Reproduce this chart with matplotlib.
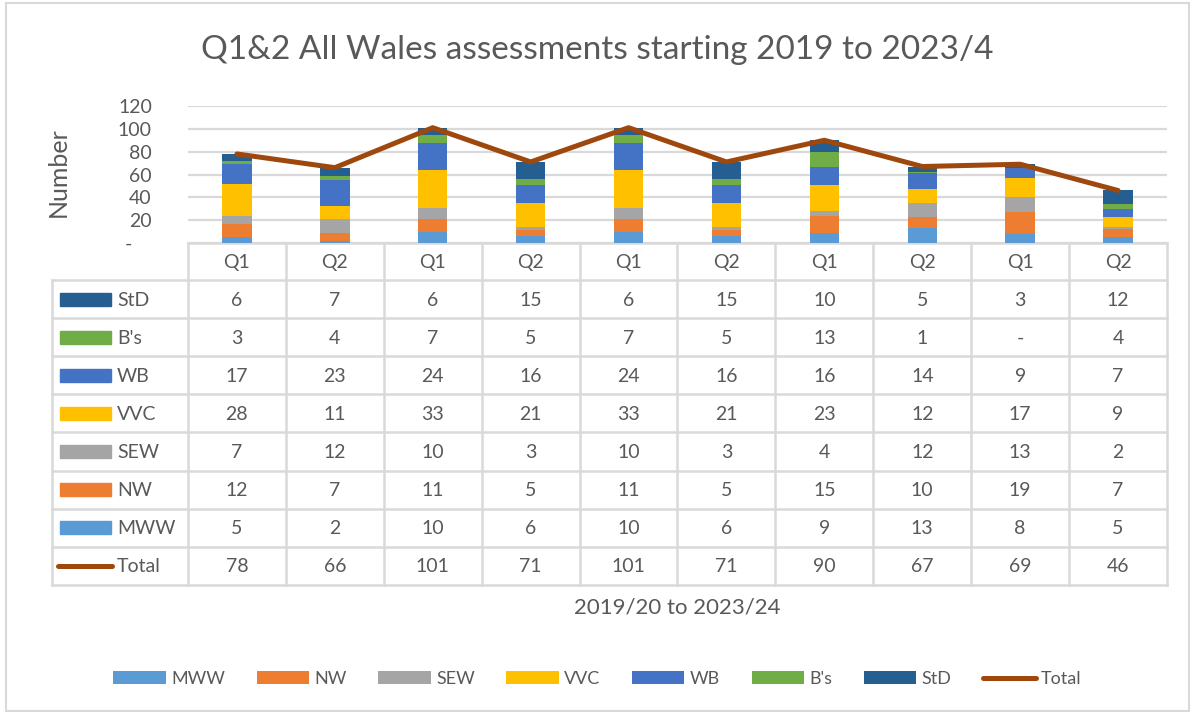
import matplotlib
matplotlib.use("Agg")
import matplotlib.pyplot as plt
import matplotlib.transforms as mtransforms
from matplotlib.patches import Rectangle, Patch
from matplotlib.lines import Line2D
import numpy as np

plt.rcParams['font.family'] = ['Lato', 'DejaVu Sans']

quarters = ["Q1", "Q2", "Q1", "Q2", "Q1", "Q2", "Q1", "Q2", "Q1", "Q2"]
series_names = ["MWW", "NW", "SEW", "VVC", "WB", "B's", "StD"]
MWW = [5, 2, 10, 6, 10, 6, 9, 13, 8, 5]
NW = [12, 7, 11, 5, 11, 5, 15, 10, 19, 7]
SEW = [7, 12, 10, 3, 10, 3, 4, 12, 13, 2]
VVC = [28, 11, 33, 21, 33, 21, 23, 12, 17, 9]
WB = [17, 23, 24, 16, 24, 16, 16, 14, 9, 7]
Bs = [3, 4, 7, 5, 7, 5, 13, 1, 0, 4]
StD = [6, 7, 6, 15, 6, 15, 10, 5, 3, 12]
Total = [78, 66, 101, 71, 101, 71, 90, 67, 69, 46]

series_values = [MWW, NW, SEW, VVC, WB, Bs, StD]
colors = ["#5B9BD5", "#ED7D31", "#A5A5A5", "#FFC000", "#4472C4", "#70AD47", "#255E91"]
line_color = "#9E480E"
txt = "#595959"
grid_c = "#D9D9D9"

W, H = 1195, 715
fig = plt.figure(figsize=(W / 100, H / 100), dpi=100)

# layout in pixels
L, R = 188, 1167
Y0, Y120 = 243, 106
ax = fig.add_axes([L / W, 1 - Y0 / H, (R - L) / W, (Y0 - Y120) / H])
x = np.arange(len(quarters))
bottom = np.zeros(len(quarters))
for name, vals, c in zip(series_names, series_values, colors):
    ax.bar(x, vals, bottom=bottom, width=0.3, color=c, zorder=3)
    bottom += np.array(vals)
ax.plot(x, Total, color=line_color, lw=3.6, solid_capstyle='round',
        solid_joinstyle='round', zorder=5, clip_on=False)
ax.set_xlim(-0.5, len(quarters) - 0.5)
ax.set_ylim(0, 120)
ax.set_yticks(range(0, 121, 20))
ax.set_yticklabels(["-    "] + [str(v) for v in range(20, 121, 20)], fontsize=14, color=txt)
ax.tick_params(axis='y', length=0, pad=26)
ax.set_xticks([])
for s in ax.spines.values():
    s.set_visible(False)
ax.grid(axis='y', color=grid_c, lw=1.6, zorder=0)
ax.set_axisbelow(True)

# overlay in pixel coordinates
ov = fig.add_axes([0, 0, 1, 1], zorder=-1)
ov.set_xlim(0, W)
ov.set_ylim(H, 0)
ov.axis('off')
ov.add_patch(Rectangle((6, 3), W - 12, H - 7, fill=False, edgecolor=grid_c, lw=1.5))

bt = mtransforms.blended_transform_factory(ax.transData, ov.transData)

HDR_TOP, HDR_BOT = 243, 280
ROW_H = 38.1
row_labels = ["StD", "B's", "WB", "VVC", "SEW", "NW", "MWW", "Total"]
row_data = [StD, Bs, WB, VVC, SEW, NW, MWW, Total]
row_colors = ["#255E91", "#70AD47", "#4472C4", "#FFC000", "#A5A5A5", "#ED7D31", "#5B9BD5", None]
TLEFT = 52
TBOT = HDR_BOT + ROW_H * len(row_labels)

lw_t = 1.8
ov.plot([L, R], [HDR_TOP, HDR_TOP], color=grid_c, lw=lw_t)
for k in range(len(quarters) + 1):
    xe = L + (R - L) * k / len(quarters)
    ov.plot([xe, xe], [HDR_TOP, TBOT], color=grid_c, lw=lw_t)
ov.plot([TLEFT, TLEFT], [HDR_BOT, TBOT], color=grid_c, lw=lw_t)
for r in range(len(row_labels) + 1):
    yy = HDR_BOT + ROW_H * r
    ov.plot([TLEFT, R], [yy, yy], color=grid_c, lw=lw_t)

for i, q in enumerate(quarters):
    ov.text(i, (HDR_TOP + HDR_BOT) / 2 + 1, q, transform=bt, ha='center', va='center',
            fontsize=14, color=txt)

for r, (lab, vals, c) in enumerate(zip(row_labels, row_data, row_colors)):
    yc = HDR_BOT + ROW_H * (r + 0.5)
    if c is not None:
        ov.add_patch(Rectangle((60, yc - 6.5), 51, 13, color=c))
    else:
        ov.plot([58, 112], [yc, yc], color=line_color, lw=3.6, solid_capstyle='round')
    ov.text(117, yc + 1, lab, ha='left', va='center', fontsize=14, color=txt)
    for i, v in enumerate(vals):
        ov.text(i, yc + 1, str(v) if v != 0 else "-", transform=bt, ha='center', va='center',
                fontsize=14, color=txt)

# titles
ov.text(W / 2, 50, "Q1&2 All Wales assessments starting 2019 to 2023/4", ha='center', va='center',
        fontsize=24, color=txt)
ov.text(58, 172, "Number", rotation=90, ha='center', va='center', fontsize=18, color=txt)
ov.text((L + R) / 2, 608, "2019/20 to 2023/24", ha='center', va='center', fontsize=16, color=txt)

# legend
handles = [Patch(facecolor=c, edgecolor='none') for c in colors]
handles.append(Line2D([0], [0], color=line_color, lw=3.6, solid_capstyle='round'))
fig.legend(handles, series_names + ["Total"], loc='center', bbox_to_anchor=(0.5, 1 - 679 / H),
           ncol=8, frameon=False, fontsize=13, labelcolor=txt, handlelength=2.9,
           handleheight=0.7, handletextpad=0.3, columnspacing=1.75)

fig.savefig("out.png", dpi=100)
